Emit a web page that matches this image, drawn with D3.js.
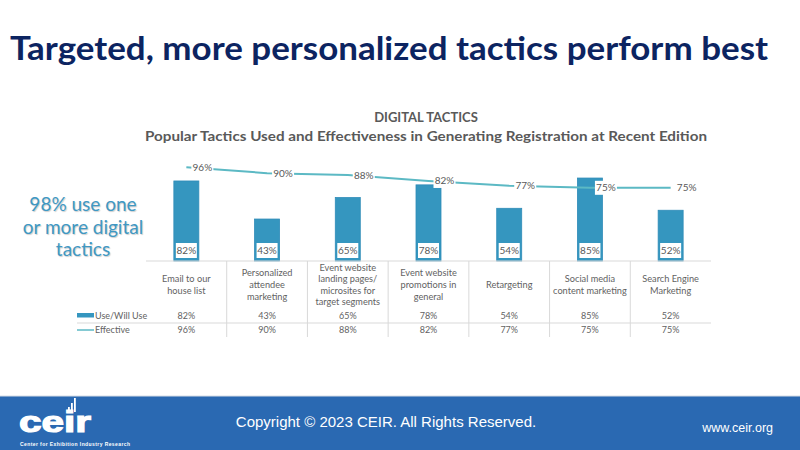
<!DOCTYPE html>
<html>
<head>
<meta charset="utf-8">
<script src="https://cdn.jsdelivr.net/npm/d3@7"></script>
<style>
  body { margin: 0; background: #fff; }
  svg { display: block; }
</style>
</head>
<body>
<div id="chart"></div>
<script>
var svgWidth = 800;
var svgHeight = 450;

// chart data
var categories = [
  ["Email to our", "house list"],
  ["Personalized", "attendee", "marketing"],
  ["Event website", "landing pages/", "microsites for", "target segments"],
  ["Event website", "promotions in", "general"],
  ["Retargeting"],
  ["Social media", "content marketing"],
  ["Search Engine", "Marketing"]
];
var useValues = [82, 43, 65, 78, 54, 85, 52];
var effValues = [96, 90, 88, 82, 77, 75, 75];
var seriesNames = ["Use/Will Use", "Effective"];
var calloutLines = ["98% use one", "or more digital", "tactics"];

var barColor = "#3596bf";
var lineColor = "#5cb9c4";
var textGray = "#595959";

var svg = d3.select("#chart")
  .append("svg")
  .attr("width", svgWidth)
  .attr("height", svgHeight);

// title
svg.append("text")
  .attr("x", 10)
  .attr("y", 60)
  .attr("font-family", "Lato, sans-serif")
  .attr("font-weight", "bold")
  .attr("font-size", 33)
  .attr("fill", "#0c2461")
  .attr("textLength", 758)
  .attr("lengthAdjust", "spacingAndGlyphs")
  .text("Targeted, more personalized tactics perform best");

svg.append("text")
  .attr("x", 426)
  .attr("y", 122)
  .attr("text-anchor", "middle")
  .attr("font-family", "Lato, sans-serif")
  .attr("font-weight", "bold")
  .attr("font-size", 13)
  .attr("fill", textGray)
  .text("DIGITAL TACTICS");

svg.append("text")
  .attr("x", 426)
  .attr("y", 141)
  .attr("text-anchor", "middle")
  .attr("font-family", "Lato, sans-serif")
  .attr("font-weight", "bold")
  .attr("font-size", 13.5)
  .attr("fill", textGray)
  .attr("textLength", 562)
  .attr("lengthAdjust", "spacingAndGlyphs")
  .text("Popular Tactics Used and Effectiveness in Generating Registration at Recent Edition");

// callout
svg.append("g").selectAll("text")
  .data(calloutLines)
  .enter()
  .append("text")
  .attr("x", 83)
  .attr("y", (d, i) => 211 + i * 22.5)
  .attr("text-anchor", "middle")
  .attr("font-family", "Lato, sans-serif")
  .attr("font-size", 19)
  .attr("fill", "#3f98c3")
  .style("text-shadow", "1px 1px 1px rgba(0,0,0,0.2)")
  .text(d => d);

// scales
var x = d3.scaleBand()
  .domain(d3.range(categories.length))
  .range([146, 711]);

var y = d3.scaleLinear()
  .domain([0, 100])
  .range([261, 163.4]);

var barW = 25;
var cx = i => x(i) + x.bandwidth() / 2;

var chartGroup = svg.append("g");

// bars
chartGroup.selectAll(".bar")
  .data(useValues)
  .enter()
  .append("rect")
  .attr("class", "bar")
  .attr("x", (d, i) => cx(i) - barW / 2)
  .attr("y", d => y(d))
  .attr("width", barW)
  .attr("height", d => y(0) - y(d))
  .attr("fill", barColor)
  .attr("stroke", "#2f8cb8")
  .attr("stroke-width", 0.8);

// bar labels
var barLab = chartGroup.selectAll(".barlab")
  .data(useValues)
  .enter()
  .append("g");

barLab.append("rect")
  .attr("x", (d, i) => cx(i) - 10.5)
  .attr("y", 243)
  .attr("width", 21)
  .attr("height", 15)
  .attr("fill", "#fff");

barLab.append("text")
  .attr("x", (d, i) => cx(i))
  .attr("y", 254)
  .attr("text-anchor", "middle")
  .attr("font-family", "Lato, sans-serif")
  .attr("font-size", 10)
  .attr("fill", textGray)
  .text(d => d + "%");

// line
var line = d3.line()
  .x((d, i) => cx(i))
  .y(d => y(d));

chartGroup.append("path")
  .datum(effValues)
  .attr("d", line)
  .attr("fill", "none")
  .attr("stroke", lineColor)
  .attr("stroke-width", 2);

var lineLab = chartGroup.selectAll(".linelab")
  .data(effValues)
  .enter()
  .append("g");

lineLab.append("rect")
  .attr("x", (d, i) => cx(i) + 5)
  .attr("y", d => y(d) - 7)
  .attr("width", 22)
  .attr("height", 14)
  .attr("fill", "#fff");

lineLab.append("text")
  .attr("x", (d, i) => cx(i) + 16)
  .attr("y", d => y(d) + 3.5)
  .attr("text-anchor", "middle")
  .attr("font-family", "Lato, sans-serif")
  .attr("font-size", 10)
  .attr("fill", textGray)
  .text(d => d + "%");

// axis line
chartGroup.append("line")
  .attr("x1", 146).attr("x2", 711)
  .attr("y1", y(0)).attr("y2", y(0))
  .attr("stroke", "#d9d9d9")
  .attr("stroke-width", 1);

// data table
var table = svg.append("g");

table.selectAll(".vsep")
  .data(d3.range(1, categories.length))
  .enter()
  .append("line")
  .attr("x1", i => x(i)).attr("x2", i => x(i))
  .attr("y1", y(0)).attr("y2", 337)
  .attr("stroke", "#d9d9d9");

table.append("line")
  .attr("x1", 77).attr("x2", 711)
  .attr("y1", 323).attr("y2", 323)
  .attr("stroke", "#d9d9d9");

categories.forEach(function(lines, i) {
  var top = 285 - (lines.length - 1) * 11.6 / 2;
  lines.forEach(function(t, j) {
    table.append("text")
      .attr("x", cx(i))
      .attr("y", top + j * 11.6 + 3)
      .attr("text-anchor", "middle")
      .attr("font-family", "Lato, sans-serif")
      .attr("font-size", 9.2)
      .attr("fill", "#626262")
      .text(t);
  });
});

[useValues, effValues].forEach(function(vals, r) {
  table.selectAll(".row" + r)
    .data(vals)
    .enter()
    .append("text")
    .attr("x", (d, i) => cx(i))
    .attr("y", 319 + r * 14)
    .attr("text-anchor", "middle")
    .attr("font-family", "Lato, sans-serif")
    .attr("font-size", 9)
    .attr("fill", "#626262")
    .text(d => d + "%");
});

// legend keys in the table
table.append("rect")
  .attr("x", 77).attr("y", 313)
  .attr("width", 17).attr("height", 4.5)
  .attr("fill", barColor);
table.append("line")
  .attr("x1", 77).attr("x2", 94)
  .attr("y1", 330).attr("y2", 330)
  .attr("stroke", lineColor)
  .attr("stroke-width", 1.5);

table.selectAll(".legtext")
  .data(seriesNames)
  .enter()
  .append("text")
  .attr("x", 95)
  .attr("y", (d, i) => 319 + i * 14)
  .attr("font-family", "Lato, sans-serif")
  .attr("font-size", 9)
  .attr("fill", "#626262")
  .text(d => d);

// footer
var footer = svg.append("g");

footer.append("rect")
  .attr("x", 0).attr("y", 396)
  .attr("width", svgWidth).attr("height", 54)
  .attr("fill", "#2a69b2");

footer.append("line")
  .attr("x1", 0).attr("x2", svgWidth)
  .attr("y1", 396).attr("y2", 396)
  .attr("stroke", "#d6dde6")
  .attr("stroke-width", 1);

footer.append("text")
  .attr("x", 19)
  .attr("y", 432)
  .attr("font-family", "'Liberation Sans', Arial, sans-serif")
  .attr("font-weight", "bold")
  .attr("font-size", 30)
  .attr("fill", "#fff")
  .attr("stroke", "#fff")
  .attr("stroke-width", 1.2)
  .attr("textLength", 72)
  .attr("lengthAdjust", "spacingAndGlyphs")
  .text("ceir");

footer.selectAll(".logobar")
  .data([5, 9, 14])
  .enter()
  .append("rect")
  .attr("x", (d, i) => 68 + i * 3)
  .attr("y", d => 412 - d)
  .attr("width", 1.8)
  .attr("height", d => d)
  .attr("fill", "#fff");

footer.append("text")
  .attr("x", 20)
  .attr("y", 446)
  .attr("font-family", "'Liberation Sans', Arial, sans-serif")
  .attr("font-weight", "bold")
  .attr("font-size", 5)
  .attr("fill", "#fff")
  .attr("textLength", 110)
  .text("Center for Exhibition Industry Research");

footer.append("text")
  .attr("x", 386)
  .attr("y", 427)
  .attr("text-anchor", "middle")
  .attr("font-family", "'Liberation Sans', Arial, sans-serif")
  .attr("font-size", 15)
  .attr("fill", "#fff")
  .text("Copyright \u00A9 2023 CEIR. All Rights Reserved.");

footer.append("text")
  .attr("x", 773)
  .attr("y", 432)
  .attr("text-anchor", "end")
  .attr("font-family", "'Liberation Sans', Arial, sans-serif")
  .attr("font-size", 12.5)
  .attr("fill", "#fff")
  .text("www.ceir.org");
</script>
</body>
</html>
